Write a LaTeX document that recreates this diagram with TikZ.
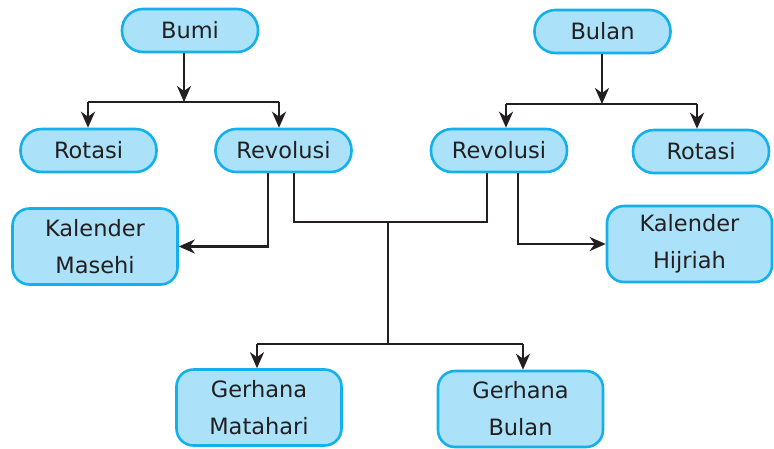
\documentclass[tikz,border=0pt]{standalone}
\usepackage{fontspec}
\setmainfont{DejaVu Sans}
\usetikzlibrary{arrows.meta}
\definecolor{boxfill}{RGB}{171,226,250}
\definecolor{boxdraw}{RGB}{20,176,235}
\definecolor{ink}{RGB}{35,31,32}
\tikzset{
  pill/.style={draw=boxdraw, fill=boxfill, line width=2.6pt, rounded corners=21pt,
    minimum width=136pt, minimum height=43pt, text=ink, inner sep=0pt,
    font=\fontsize{22.5}{36}\selectfont},
  tallbox/.style={draw=boxdraw, fill=boxfill, line width=2.6pt, rounded corners=17pt,
    minimum width=165pt, minimum height=76pt, text=ink, inner sep=0pt, align=center,
    font=\fontsize{22.5}{37}\selectfont},
  conn/.style={draw=ink, line width=2.5pt},
  arr/.style={conn, -{Stealth[length=16pt,width=14pt,inset=5pt]}}
}
\begin{document}
\begin{tikzpicture}[x=1pt,y=-1pt]
\useasboundingbox (0,0) rectangle (774,448);
% nodes
\node[pill] (bumi) at (190,30.5) {Bumi};
\node[pill] (rotL) at (88.5,150.5) {Rotasi};
\node[pill] (revL) at (283.5,150.5) {Revolusi};
\node[pill] (bulan) at (602.5,31.5) {Bulan};
\node[pill] (revR) at (499,150.5) {Revolusi};
\node[pill] (rotR) at (701,151.5) {Rotasi};
\node[tallbox] (kM) at (95,246.5) {Kalender\\Masehi};
\node[tallbox] (kH) at (689.5,244) {Kalender\\Hijriah};
\node[tallbox] (gM) at (259,407.5) {Gerhana\\Matahari};
\node[tallbox] (gB) at (520.5,409) {Gerhana\\Bulan};
% coordinates
\coordinate (b1) at (184,102);
\coordinate (b2) at (88,102);
\coordinate (b3) at (279,102);
\coordinate (m1) at (602,104);
\coordinate (m2) at (506,104);
\coordinate (m3) at (697,104);
\coordinate (r1) at (268,200);
\coordinate (r2) at (294,200);
\coordinate (r3) at (487,200);
\coordinate (r4) at (518,200);
\coordinate (j) at (388,222);
\coordinate (g) at (388,344);
\coordinate (g1) at (257,344);
\coordinate (g2) at (523,344);
% Bumi
\draw[arr] (b1 |- bumi.south) -- (b1);
\draw[conn] (b2) -- (b3);
\draw[arr] (b2) -- (b2 |- rotL.north);
\draw[arr] (b3) -- (b3 |- revL.north);
% Bulan
\draw[arr] (m1 |- bulan.south) -- (m1);
\draw[conn] (m2) -- (m3);
\draw[arr] (m2) -- (m2 |- revR.north);
\draw[arr] (m3) -- (m3 |- rotR.north);
% Revolusi to Kalender
\draw[arr] (r1 |- revL.south) |- (kM.east);
\draw[arr] (r4 |- revR.south) |- (kH.west);
% Revolusi to Gerhana
\draw[conn] (r2 |- revL.south) |- (j) -| (r3 |- revR.south);
\draw[conn] (j) -- (g);
\draw[conn] (g1) -- (g2);
\draw[arr] (g1) -- (g1 |- gM.north);
\draw[arr] (g2) -- (g2 |- gB.north);
\end{tikzpicture}
\end{document}
